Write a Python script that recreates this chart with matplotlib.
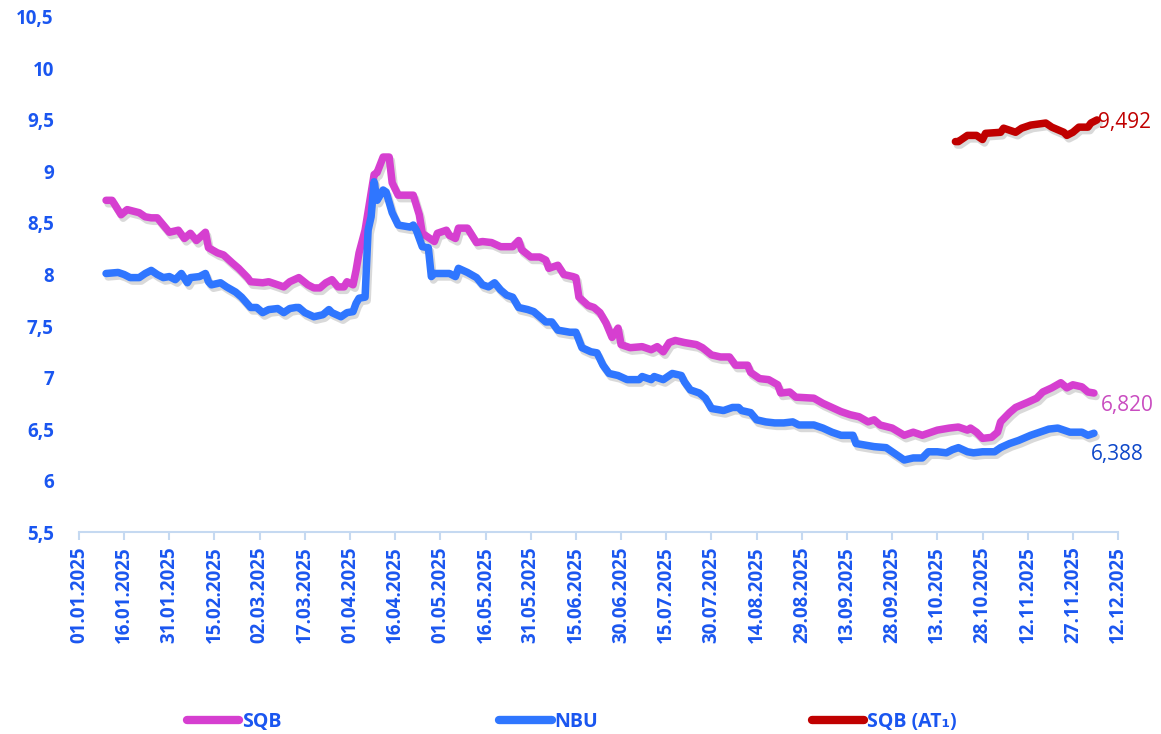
import numpy as np
import pandas as pd
import matplotlib
matplotlib.use('Agg')
import matplotlib.pyplot as plt
import matplotlib.dates as mdates
import matplotlib.patheffects as pe
from matplotlib.ticker import FuncFormatter

# --- data (day offset from 01.01.2025, yield %) ---
sqb_day = [9, 11, 14, 16, 20, 22, 24, 26, 28, 30, 33, 35, 37, 39, 42, 43, 46, 48, 51, 53,
           56, 57, 61, 63, 68, 70, 73, 76, 78, 80, 82, 84, 86, 88, 89, 91, 92, 93, 95, 97,
           98, 99, 101, 103, 104, 106, 110, 111, 113, 114, 118, 119, 122, 123, 125, 126, 129,
           132, 134, 137, 140, 144, 146, 147, 150, 153, 155, 156, 159, 161, 164, 165, 166,
           169, 171, 173, 175, 177, 179, 180, 183, 187, 190, 192, 194, 196, 198, 201, 205,
           207, 210, 213, 216, 218, 222, 223, 226, 229, 232, 233, 236, 238, 244, 247, 250,
           253, 256, 259, 262, 264, 266, 270, 274, 277, 280, 285, 289, 292, 295, 296, 298,
           300, 303, 305, 306, 309, 311, 315, 318, 320, 323, 326, 328, 330, 333, 335, 337]
sqb_val = [8.72, 8.72, 8.58, 8.63, 8.60, 8.56, 8.55, 8.55, 8.48, 8.41, 8.43, 8.35, 8.40, 8.33,
           8.41, 8.26, 8.21, 8.19, 8.11, 8.06, 7.97, 7.93, 7.92, 7.93, 7.88, 7.93, 7.97, 7.90,
           7.87, 7.87, 7.92, 7.95, 7.88, 7.88, 7.93, 7.90, 8.04, 8.21, 8.43, 8.79, 8.97, 8.99,
           9.14, 9.14, 8.89, 8.77, 8.77, 8.77, 8.58, 8.40, 8.32, 8.40, 8.43, 8.38, 8.35, 8.45,
           8.45, 8.31, 8.32, 8.31, 8.27, 8.27, 8.33, 8.24, 8.17, 8.17, 8.14, 8.06, 8.09, 8.00,
           7.98, 7.97, 7.78, 7.70, 7.68, 7.63, 7.53, 7.39, 7.48, 7.32, 7.29, 7.30, 7.27, 7.30,
           7.25, 7.34, 7.36, 7.34, 7.32, 7.29, 7.22, 7.20, 7.20, 7.12, 7.12, 7.05, 6.99, 6.98,
           6.93, 6.85, 6.86, 6.81, 6.80, 6.75, 6.71, 6.67, 6.64, 6.62, 6.57, 6.59, 6.54, 6.51,
           6.44, 6.47, 6.44, 6.49, 6.51, 6.52, 6.49, 6.51, 6.47, 6.41, 6.42, 6.47, 6.57, 6.66,
           6.71, 6.76, 6.80, 6.86, 6.90, 6.95, 6.90, 6.93, 6.91, 6.86, 6.85]

nbu_day = [9, 13, 15, 17, 20, 22, 24, 26, 28, 30, 32, 34, 36, 37, 40, 42, 43, 44, 47, 49,
           52, 54, 57, 59, 61, 63, 66, 68, 70, 72, 73, 75, 78, 81, 83, 84, 87, 89, 91, 92,
           93, 95, 96, 97, 98, 99, 101, 102, 104, 106, 110, 111, 112, 114, 116, 117, 118, 123,
           125, 126, 129, 132, 134, 136, 138, 140, 142, 144, 146, 149, 151, 153, 155, 157,
           159, 163, 165, 167, 170, 172, 174, 176, 179, 182, 186, 187, 190, 191, 194, 196,
           197, 200, 201, 203, 206, 208, 210, 214, 217, 219, 220, 223, 225, 228, 231, 234,
           237, 239, 244, 247, 250, 253, 257, 258, 262, 264, 268, 270, 274, 277, 280, 282,
           285, 288, 290, 292, 295, 297, 300, 304, 306, 309, 312, 316, 319, 322, 325, 327,
           329, 333, 335, 337]
nbu_val = [8.01, 8.02, 8.00, 7.97, 7.97, 8.01, 8.04, 8.00, 7.97, 7.98, 7.95, 8.01, 7.92, 7.97,
           7.98, 8.01, 7.93, 7.90, 7.92, 7.88, 7.83, 7.78, 7.68, 7.68, 7.63, 7.66, 7.67, 7.63,
           7.67, 7.68, 7.68, 7.63, 7.59, 7.61, 7.66, 7.63, 7.59, 7.63, 7.64, 7.72, 7.77, 7.78,
           8.43, 8.56, 8.90, 8.72, 8.82, 8.80, 8.60, 8.48, 8.46, 8.48, 8.43, 8.27, 8.26, 7.98,
           8.01, 8.01, 7.98, 8.06, 8.02, 7.97, 7.90, 7.88, 7.92, 7.85, 7.80, 7.78, 7.68, 7.66,
           7.64, 7.59, 7.54, 7.54, 7.46, 7.44, 7.44, 7.29, 7.25, 7.24, 7.12, 7.04, 7.02, 6.98,
           6.98, 7.01, 6.98, 7.01, 6.98, 7.02, 7.04, 7.02, 6.96, 6.88, 6.85, 6.80, 6.70, 6.68,
           6.71, 6.71, 6.68, 6.66, 6.59, 6.57, 6.56, 6.56, 6.57, 6.54, 6.54, 6.51, 6.47, 6.44,
           6.44, 6.36, 6.34, 6.33, 6.32, 6.28, 6.20, 6.22, 6.22, 6.28, 6.28, 6.27, 6.30, 6.32,
           6.28, 6.27, 6.28, 6.28, 6.32, 6.36, 6.39, 6.44, 6.47, 6.50, 6.51, 6.49, 6.47, 6.47,
           6.44, 6.46]

at1_day = [291, 292, 295, 298, 300, 301, 306, 307, 309, 311, 313, 316, 321, 323, 327, 328,
           330, 332, 335, 336, 338]
at1_val = [9.29, 9.29, 9.35, 9.35, 9.31, 9.37, 9.38, 9.42, 9.40, 9.38, 9.42, 9.45, 9.47,
           9.43, 9.38, 9.35, 9.38, 9.43, 9.43, 9.47, 9.50]

end_labels = {'SQB': '6,820', 'NBU': '6,388', 'SQB (AT1)': '9,492'}

start = pd.Timestamp('2025-01-01')
def to_dates(days):
    return start + pd.to_timedelta(days, unit='D')

c_sqb = '#D63FD0'
c_nbu = '#2F76FF'
c_at1 = '#C00000'
c_text = '#1A56F0'
fams = ['Open Sans', 'DejaVu Sans']

fig = plt.figure(figsize=(11.61, 7.34), dpi=100)
ax = fig.add_axes([0.068, 0.275, 0.895, 0.702])

shadow = [pe.SimpleLineShadow(offset=(1.5, -2.5), alpha=0.22, shadow_color='#555555'), pe.Normal()]
style = dict(lw=5.4, solid_capstyle='round', solid_joinstyle='round', path_effects=shadow)
l1, = ax.plot(to_dates(sqb_day), sqb_val, color=c_sqb, label='SQB', **style)
l2, = ax.plot(to_dates(nbu_day), nbu_val, color=c_nbu, label='NBU', **style)
l3, = ax.plot(to_dates(at1_day), at1_val, color=c_at1, label='SQB (AT\u2081)', **style)

# end-of-series labels
ax.annotate(end_labels['SQB (AT1)'], (to_dates([at1_day[-1]])[0], at1_val[-1]),
            xytext=(1, -2), textcoords='offset points', color=c_at1, fontsize=15,
            fontfamily=fams, ha='left', va='center')
ax.annotate(end_labels['SQB'], (to_dates([sqb_day[-1]])[0], sqb_val[-1]),
            xytext=(5, -9), textcoords='offset points', color='#C94CC0', fontsize=15,
            fontfamily=fams, ha='left', va='center')
ax.annotate(end_labels['NBU'], (to_dates([nbu_day[-1]])[0], nbu_val[-1]),
            xytext=(-2, -15), textcoords='offset points', color='#0D47C9', fontsize=15,
            fontfamily=fams, ha='left', va='center')

ax.set_ylim(5.5, 10.5)
ax.set_yticks(np.arange(5.5, 10.51, 0.5))
ax.yaxis.set_major_formatter(FuncFormatter(lambda v, p: f'{v:g}'.replace('.', ',')))

ticks = pd.date_range('2025-01-01', '2025-12-12', freq='15D')
ax.set_xlim(ticks[0], ticks[-1])
ax.set_xticks(ticks)
ax.xaxis.set_major_formatter(mdates.DateFormatter('%d.%m.%Y'))

for s in ['top', 'right', 'left']:
    ax.spines[s].set_visible(False)
ax.spines['bottom'].set_color('#C5D9F1')
ax.spines['bottom'].set_linewidth(1.5)
ax.tick_params(axis='y', length=0, pad=18, labelcolor=c_text, labelsize=13.5)
ax.tick_params(axis='x', length=6, width=1.5, color='#C5D9F1', labelcolor=c_text,
               labelsize=13.5, rotation=90, pad=4)
for lab in ax.get_xticklabels() + ax.get_yticklabels():
    lab.set_fontweight('bold')
    lab.set_fontfamily(fams)

# legend: three entries at fixed positions along the bottom
for h, x0 in zip([l1, l2, l3], [0.161, 0.430, 0.699]):
    leg = fig.legend(handles=[h], loc='center left', bbox_to_anchor=(x0, 0.017),
                     frameon=False, handlelength=2.7, handletextpad=0.15, borderaxespad=0,
                     borderpad=0, prop={'family': fams, 'weight': 'bold', 'size': 14})
    for t in leg.get_texts():
        t.set_color(c_text)
    for ln in leg.get_lines():
        ln.set_linewidth(6)
        ln.set_path_effects([])

fig.savefig('out.png', dpi=100)
